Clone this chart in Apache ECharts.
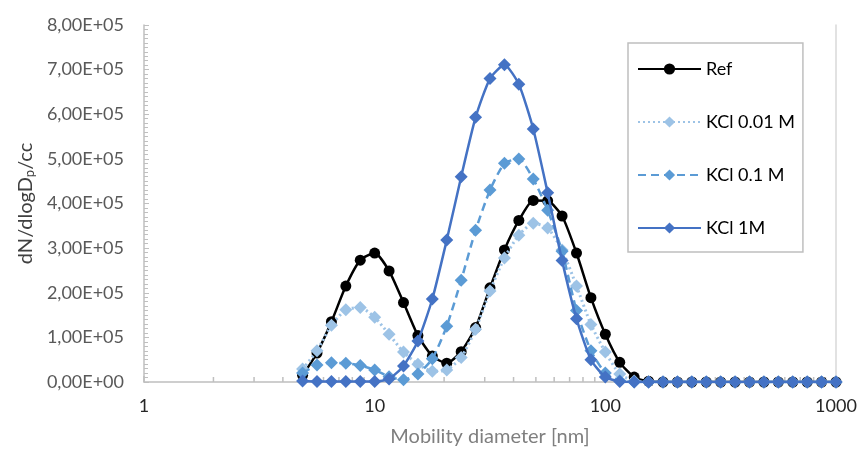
<!DOCTYPE html>
<html>
<head>
<meta charset="utf-8">
<script src="https://cdn.jsdelivr.net/npm/echarts@6/dist/echarts.min.js"></script>
<style>
html,body{margin:0;padding:0;background:#fff;}
#chart{width:863px;height:452px;}
</style>
</head>
<body>
<div id="chart"></div>
<script>
// Mobility diameter bins [nm]
const diameters = [4.870, 5.623, 6.494, 7.499, 8.660, 10.00, 11.548, 13.335, 15.399, 17.783,
  20.535, 23.714, 27.384, 31.623, 36.517, 42.170, 48.697, 56.234, 64.938, 74.989,
  86.596, 100.0, 115.48, 133.35, 153.99, 177.83, 205.35, 237.14, 273.84, 316.23,
  365.17, 421.70, 486.97, 562.34, 649.38, 749.89, 865.96, 1000.0];

const refValues = [15000, 65000, 135000, 215000, 273000, 289000, 249000, 178000, 104000, 58000,
  42000, 68000, 122000, 211000, 296000, 362000, 407000, 406000, 372000, 289000,
  189000, 107000, 44000, 11000, 1500, 0, 0, 0, 0, 0,
  0, 0, 0, 0, 0, 0, 0, 0];

const kcl001Values = [29000, 70000, 127000, 162000, 167000, 145000, 107000, 67000, 40000, 24000,
  27000, 55000, 118000, 204000, 278000, 329000, 356000, 345000, 296000, 215000,
  129000, 67000, 18000, 2000, 0, 0, 0, 0, 0, 0,
  0, 0, 0, 0, 0, 0, 0, 0];

const kcl01Values = [20000, 38000, 43000, 42000, 37000, 27000, 12000, 5000, 18000, 52000,
  125000, 228000, 340000, 430000, 490000, 500000, 455000, 385000, 293000, 160000,
  70000, 20000, 3000, 0, 0, 0, 0, 0, 0, 0,
  0, 0, 0, 0, 0, 0, 0, 0];

const kcl1Values = [2000, 1000, 1000, 1000, 1000, 1000, 7000, 36000, 92000, 186000,
  318000, 460000, 593000, 680000, 711000, 667000, 567000, 424000, 272000, 142000,
  50000, 11000, 1000, 0, 0, 0, 0, 0, 0, 0,
  0, 0, 0, 0, 0, 0, 0, 0];

const seriesNames = ['Ref', 'KCl 0.01 M', 'KCl 0.1 M', 'KCl 1M'];
const xMinorTicks = [2,3,4,5,6,7,8,9,20,30,40,50,60,70,80,90,200,300,400,500,600,700,800,900];
const yMax = 800000;
const yStep = 100000;

const FONT = 'Lato';

function pairs(vals){ return diameters.map((d,i)=>[d, vals[i]]); }

function yFmt(v){
  if (v === 0) return '0,00E+00';
  const e = Math.floor(Math.log10(v));
  const m = v / Math.pow(10, e);
  return m.toFixed(2).replace('.', ',') + 'E+' + String(e).padStart(2,'0');
}

const chart = echarts.init(document.getElementById('chart'), null, {renderer:'canvas'});

const option = {
  animation: false,
  backgroundColor: '#ffffff',
  grid: { left: 144, right: 27, top: 25, bottom: 67, containLabel: false },
  legend: {
    data: seriesNames,
    orient: 'vertical',
    left: 628,
    top: 43,
    padding: [17, 8, 15, 9],
    itemGap: 35,
    itemWidth: 63,
    itemHeight: 14,
    borderColor: '#bfbfbf',
    borderWidth: 1.5,
    textStyle: { fontFamily: FONT, fontSize: 18, color: '#000000' }
  },
  xAxis: {
    type: 'log',
    logBase: 10,
    min: 1,
    max: 1000,
    name: 'Mobility diameter [nm]',
    nameLocation: 'middle',
    nameGap: 45,
    nameTextStyle: { fontFamily: FONT, fontSize: 20, color: '#7f7f7f' },
    axisLine: { show: true, lineStyle: { color: '#bfbfbf', width: 1.5 } },
    axisTick: { show: true, inside: true, length: 6, lineStyle: { color: '#bfbfbf', width: 1.5 } },
    minorTick: { show: false },
    splitLine: { show: false },
    axisLabel: {
      fontFamily: FONT, fontSize: 18, color: '#262626', margin: 15,
      formatter: v => String(Math.round(v))
    }
  },
  yAxis: [{
    type: 'value',
    min: 0,
    max: yMax,
    interval: yStep,
    name: 'dN/dlogD{sub|p}/cc',
    nameLocation: 'middle',
    nameGap: 104,
    nameTextStyle: {
      fontFamily: FONT, fontSize: 20, color: '#404040',
      rich: { sub: { fontFamily: FONT, fontSize: 13, color: '#404040', verticalAlign: 'bottom', padding: [8,0,0,0] } }
    },
    axisLine: { show: true, lineStyle: { color: '#bfbfbf', width: 1.5 } },
    axisTick: { show: true, inside: true, length: 5, lineStyle: { color: '#bfbfbf' } },
    minorTick: { show: true, splitNumber: 10, length: 4, lineStyle: { color: '#bfbfbf' } },
    splitLine: { show: false },
    axisLabel: { fontFamily: FONT, fontSize: 18, color: '#595959', margin: 20, formatter: yFmt }
  }, {
    type: 'value',
    position: 'right',
    min: 0,
    max: yMax,
    interval: yStep,
    axisLine: { show: true, lineStyle: { color: '#d9d9d9', width: 1.5 } },
    axisTick: { show: false },
    axisLabel: { show: false },
    splitLine: { show: false }
  }],
  series: [
    {
      type: 'custom',
      name: 'xMinorTicks',
      silent: true,
      clip: false,
      data: xMinorTicks.map(v => [v, 0]),
      encode: { x: 0, y: 1 },
      z: 1,
      renderItem: function (params, api) {
        const p = api.coord([api.value(0), 0]);
        return {
          type: 'line',
          shape: { x1: p[0], y1: p[1], x2: p[0], y2: p[1] - 5 },
          style: { stroke: '#bfbfbf', lineWidth: 1.5 }
        };
      }
    },
    {
      name: seriesNames[0], type: 'line', data: pairs(refValues), z: 2,
      symbol: 'circle', symbolSize: 11, smooth: 0.2,
      lineStyle: { color: '#000000', width: 2.5, type: 'solid' },
      itemStyle: { color: '#000000' }
    },
    {
      name: seriesNames[1], type: 'line', data: pairs(kcl001Values), z: 3,
      symbol: 'diamond', symbolSize: 13, smooth: 0.2,
      lineStyle: { color: '#9DC3E6', width: 3, type: [2, 3] },
      itemStyle: { color: '#9DC3E6' }
    },
    {
      name: seriesNames[2], type: 'line', data: pairs(kcl01Values), z: 4,
      symbol: 'diamond', symbolSize: 13, smooth: 0.2,
      lineStyle: { color: '#5B9BD5', width: 2.5, type: [8, 5] },
      itemStyle: { color: '#5B9BD5' }
    },
    {
      name: seriesNames[3], type: 'line', data: pairs(kcl1Values), z: 5,
      symbol: 'diamond', symbolSize: 13, smooth: 0.2,
      lineStyle: { color: '#4472C4', width: 2.5, type: 'solid' },
      itemStyle: { color: '#4472C4' }
    }
  ]
};

chart.setOption(option);
</script>
</body>
</html>
